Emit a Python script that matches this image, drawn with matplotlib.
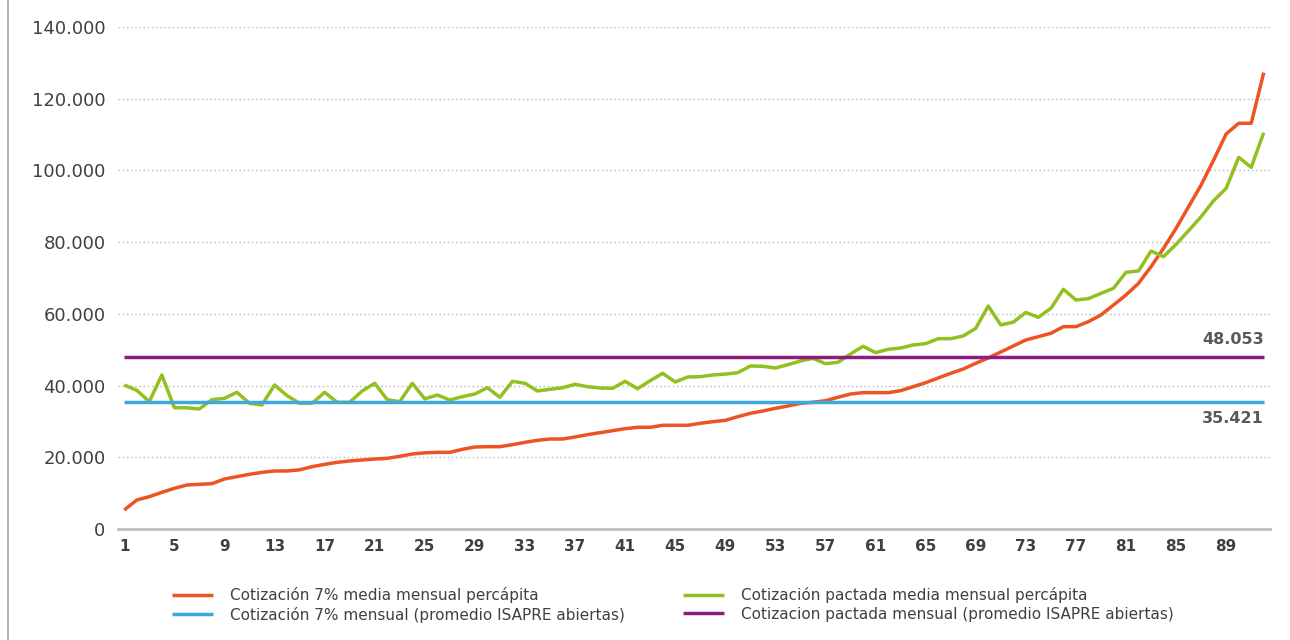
import matplotlib
matplotlib.use("Agg")
import matplotlib.pyplot as plt
import numpy as np
from matplotlib.lines import Line2D

# cotizacion 7% media mensual percapita, por categoria 1..92
cot7 = [5300, 8090, 9020, 10230, 11340, 12270, 12460, 12640, 13950, 14600,
        15250, 15800, 16180, 16180, 16500, 17380, 18030, 18590, 18970, 19240,
        19520, 19710, 20270, 20920, 21250, 21380, 21380, 22220, 22870, 22960,
        22960, 23520, 24170, 24730, 25100, 25100, 25660, 26310, 26870, 27420,
        27980, 28360, 28360, 28920, 28920, 28920, 29480, 29930, 30300, 31330,
        32260, 32910, 33650, 34300, 35050, 35330, 35790, 36730, 37650, 38020,
        38020, 38020, 38580, 39690, 40800, 42110, 43420, 44620, 46210, 47690,
        49370, 51040, 52710, 53640, 54570, 56430, 56430, 57830, 59680, 62470,
        65260, 68520, 73160, 78280, 83860, 89890, 95940, 102910, 110170, 113150,
        113150, 127270]

# cotizacion pactada media mensual percapita
pactada = [40160, 38680, 35500, 42950, 33840, 33800, 33470, 36070, 36440, 38120,
           35050, 34580, 40160, 37190, 35050, 35050, 38120, 35330, 35330, 38490,
           40630, 36070, 35500, 40630, 36300, 37370, 35980, 36900, 37650, 39410,
           36730, 41190, 40630, 38490, 38960, 39410, 40350, 39690, 39320, 39230,
           41190, 39140, 41370, 43420, 41000, 42390, 42480, 42950, 43200, 43600,
           45460, 45370, 44900, 45830, 46860, 47600, 46110, 46490, 48810, 50950,
           49180, 50110, 50480, 51320, 51690, 53080, 53080, 53830, 55970, 62190,
           56900, 57700, 60380, 59030, 61540, 66840, 63870, 64240, 65720, 67120,
           71580, 71960, 77530, 75950, 79390, 83200, 87110, 91570, 95010, 103660,
           100870, 110530]

prom_7 = 35421
prom_pactada = 48053

labels = ["Cotización 7% media mensual percápita",
          "Cotización pactada media mensual percápita",
          "Cotización 7% mensual (promedio ISAPRE abiertas)",
          "Cotizacion pactada mensual (promedio ISAPRE abiertas)"]
colores = ["#EE5324", "#92C020", "#3BA8DE", "#8C1C80"]

x = np.arange(1, len(cot7) + 1)
gris = "#404040"

fig = plt.figure(figsize=(12.9, 6.4), dpi=100)
ax = fig.add_axes([118 / 1290, 1 - 529 / 640, 1152 / 1290, 502 / 640])

l1, = ax.plot(x, cot7, color=colores[0], lw=2.5, solid_capstyle="butt")
l2, = ax.plot(x, pactada, color=colores[1], lw=2.5, solid_capstyle="butt")
l3, = ax.plot(x, np.full(len(x), prom_7), color=colores[2], lw=2.5, solid_capstyle="butt")
l4, = ax.plot(x, np.full(len(x), prom_pactada), color=colores[3], lw=2.5, solid_capstyle="butt")

ax.set_xlim(0.5, len(x) + 0.5)
ax.set_ylim(0, 140000)
ax.set_yticks(np.arange(0, 140001, 20000))
ax.set_yticklabels(["0" if v == 0 else f"{v:,}".replace(",", ".") for v in range(0, 140001, 20000)],
                   fontsize=13, color=gris)
ax.set_xticks(x[::4])
ax.set_xticklabels([str(v) for v in x[::4]], fontsize=11, fontweight="bold", color=gris)
ax.tick_params(axis="both", length=0)
ax.tick_params(axis="y", pad=9)
ax.tick_params(axis="x", pad=7)

ax.grid(axis="y", linestyle=(0, (1.2, 1.8)), color="#BFBFBF", lw=1)
ax.set_axisbelow(True)
for s in ["top", "right", "left"]:
    ax.spines[s].set_visible(False)
ax.spines["bottom"].set_color("#BFBFBF")
ax.spines["bottom"].set_linewidth(2)

# etiquetas de los promedios
ax.text(len(x), prom_pactada + 2800, f"{prom_pactada:,}".replace(",", "."), ha="right", va="bottom",
        fontsize=11.5, fontweight="bold", color="#595959")
ax.text(len(x), prom_7 - 2500, f"{prom_7:,}".replace(",", "."), ha="right", va="top",
        fontsize=11.5, fontweight="bold", color="#595959")

# leyenda en dos columnas, colocadas a mano
for hs, ls, xpos in [([l1, l3], [labels[0], labels[2]], 172),
                     ([l2, l4], [labels[1], labels[3]], 683)]:
    leg = fig.legend(hs, ls, loc="upper left", bbox_to_anchor=(xpos / 1290, 1 - 587 / 640),
                     frameon=False, fontsize=11, handlelength=2.7, handletextpad=1.1,
                     labelspacing=0.25, borderpad=0, borderaxespad=0)
    for t in leg.get_texts():
        t.set_color(gris)

# borde izquierdo del grafico
fig.add_artist(Line2D([8 / 1290, 8 / 1290], [0, 1], color="#A6A6A6", lw=1.2))

fig.savefig("out.png", dpi=100)
